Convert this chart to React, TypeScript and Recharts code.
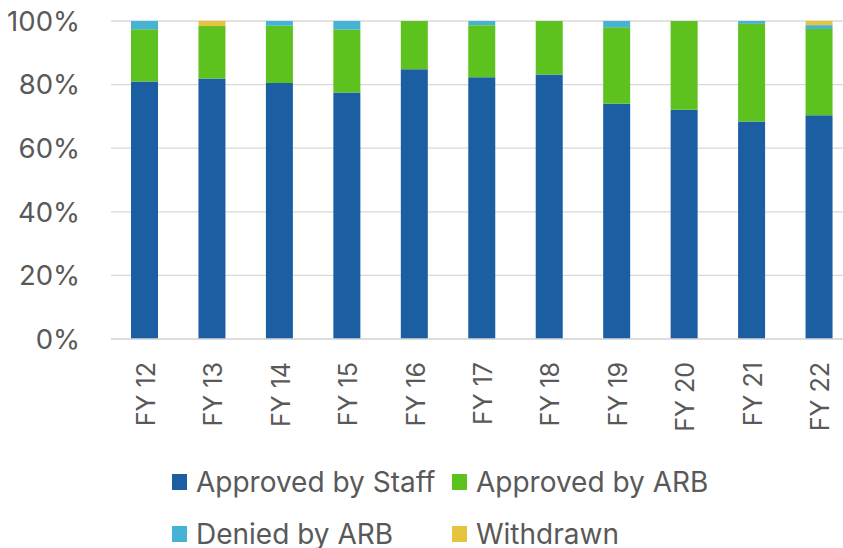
import { BarChart, Bar, XAxis, YAxis, CartesianGrid, Legend } from "recharts";

const categories = ["FY 12", "FY 13", "FY 14", "FY 15", "FY 16", "FY 17", "FY 18", "FY 19", "FY 20", "FY 21", "FY 22"];
const approvedByStaff = [81.0, 81.9, 80.5, 77.5, 84.8, 82.3, 83.2, 74.0, 72.1, 68.4, 70.4];
const approvedByArb = [16.4, 16.5, 18.0, 19.8, 15.2, 16.4, 16.8, 24.0, 27.9, 30.7, 27.1];
const deniedByArb = [2.6, 0, 1.5, 2.7, 0, 1.3, 0, 2.0, 0, 0.9, 1.2];
const withdrawn = [0, 1.6, 0, 0, 0, 0, 0, 0, 0, 0, 1.3];
const yTicks = [0, 20, 40, 60, 80, 100];

const SERIES = [
  { key: "staff", name: "Approved by Staff", color: "#1b5ea2" },
  { key: "arb", name: "Approved by ARB", color: "#5ec21e" },
  { key: "denied", name: "Denied by ARB", color: "#45b4d4" },
  { key: "withdrawn", name: "Withdrawn", color: "#e6c43d" },
];

const data = categories.map((c, i) => ({
  name: c,
  staff: approvedByStaff[i],
  arb: approvedByArb[i],
  denied: deniedByArb[i],
  withdrawn: withdrawn[i],
}));

const FONT = "Inter, Lato, 'DejaVu Sans', sans-serif";
const TEXT = "#595959";

function XTick({ x, y, payload }: { x?: number; y?: number; payload?: { value: string } }) {
  const tx = (x ?? 0) + 1;
  const ty = (y ?? 0) + 23;
  return (
    <text
      x={tx}
      y={ty}
      transform={`rotate(-90 ${tx} ${ty})`}
      textAnchor="end"
      dominantBaseline="central"
      fill={TEXT}
      fontSize={25}
      fontFamily={FONT}
    >
      {payload?.value}
    </text>
  );
}

function LegendBox() {
  const pos = [
    { left: 172, top: 5 },
    { left: 452, top: 5 },
    { left: 172, top: 57 },
    { left: 452, top: 57 },
  ];
  return (
    <div style={{ position: "relative", width: 860, height: 88 }}>
      {SERIES.map((s, i) => (
        <div
          key={s.key}
          style={{
            position: "absolute",
            left: pos[i].left,
            top: pos[i].top,
            height: 34,
            display: "flex",
            alignItems: "center",
            gap: 9,
            fontFamily: FONT,
            fontSize: 28,
            color: TEXT,
            whiteSpace: "nowrap",
          }}
        >
          <span style={{ width: 15, height: 16, background: s.color, display: "inline-block" }} />
          <span>{s.name}</span>
        </div>
      ))}
    </div>
  );
}

export default function App() {
  return (
    <div style={{ position: "fixed", left: 0, top: 0, width: 843, height: 548, overflow: "hidden", background: "#fff" }}>
      <BarChart
        width={860}
        height={548}
        data={data}
        margin={{ top: 21, right: 7, bottom: 0, left: 0 }}
        barSize={27}
      >
        <CartesianGrid vertical={false} stroke="#d9d9d9" strokeWidth={1.2} />
        <XAxis
          dataKey="name"
          height={121}
          axisLine={{ stroke: "#d9d9d9", strokeWidth: 1.5 }}
          tickLine={false}
          tickSize={0}
          tickMargin={0}
          interval={0}
          tick={<XTick />}
        />
        <YAxis
          width={111}
          domain={[0, 100]}
          ticks={yTicks}
          tickFormatter={(v) => `${v}%`}
          axisLine={false}
          tickLine={false}
          tickSize={0}
          tickMargin={31}
          tick={{ fill: TEXT, fontSize: 27.5, fontFamily: FONT }}
        />
        <Legend verticalAlign="bottom" height={88} content={<LegendBox />} />
        {SERIES.map((s) => (
          <Bar
            key={s.key}
            dataKey={s.key}
            name={s.name}
            stackId="a"
            fill={s.color}
            isAnimationActive={false}
          />
        ))}
      </BarChart>
    </div>
  );
}
